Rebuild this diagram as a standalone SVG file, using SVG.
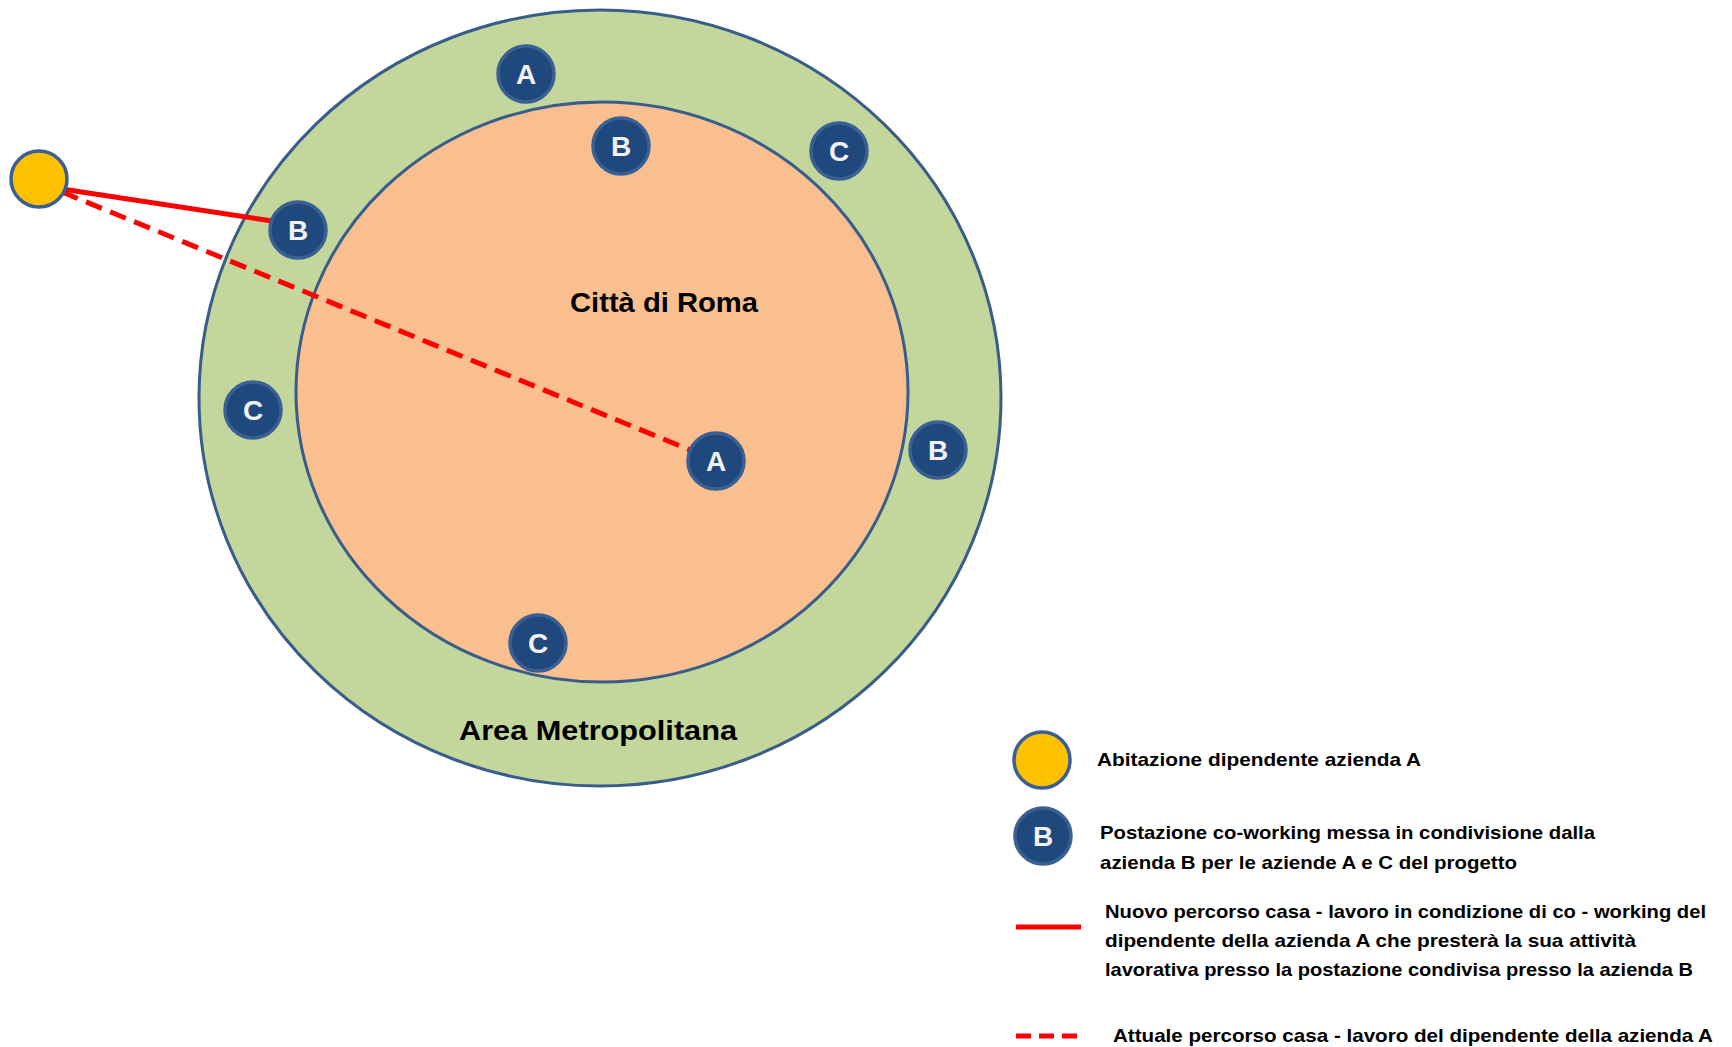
<svg xmlns="http://www.w3.org/2000/svg" width="1732" height="1047" viewBox="0 0 1732 1047">
<style>
.ring{stroke:#385D8A;stroke-width:3}
.node circle{fill:#1F497D;stroke:#3A5F92;stroke-width:3.5}
.node text{fill:#F2F2F2;font-family:"Liberation Sans",Arial,sans-serif;font-weight:bold;font-size:28px;text-anchor:middle}
.lbl{fill:#000;font-family:"Liberation Sans",Arial,sans-serif;font-weight:bold}
.leg{fill:#000;font-family:"Liberation Sans",Arial,sans-serif;font-weight:bold;font-size:19px}
.home{fill:#FFC000;stroke:#3A5F92;stroke-width:3.5}
.solid{stroke:#FF0000;stroke-width:5;fill:none}
.dash{stroke:#FF0000;stroke-width:5;fill:none;stroke-dasharray:17 9}
</style>
<rect width="1732" height="1047" fill="#FFFFFF"/>
<g id="area-metropolitana">
<ellipse class="ring" cx="600" cy="398" rx="401" ry="388" fill="#C3D69B"/>
<text class="lbl" x="598" y="740" font-size="28" text-anchor="middle" textLength="278" lengthAdjust="spacingAndGlyphs">Area Metropolitana</text>
</g>
<g id="citta-di-roma">
<ellipse class="ring" cx="602" cy="392" rx="306" ry="290" fill="#F9BF8F"/>
<text class="lbl" x="664" y="312" font-size="28" text-anchor="middle" textLength="188" lengthAdjust="spacingAndGlyphs">Città di Roma</text>
</g>
<g id="connectors">
<line class="solid" x1="62" y1="189" x2="272" y2="221"/>
<line class="dash" x1="62" y1="192" x2="690" y2="450"/>
</g>
<g id="home"><circle class="home" cx="39" cy="179" r="28"/></g>
<g id="node-a-top" class="node"><circle cx="526" cy="74" r="28"/><text x="526" y="84">A</text></g>
<g id="node-b-inner" class="node"><circle cx="621" cy="146" r="28"/><text x="621" y="156">B</text></g>
<g id="node-c-topright" class="node"><circle cx="839" cy="151" r="28"/><text x="839" y="161">C</text></g>
<g id="node-b-left" class="node"><circle cx="298" cy="230" r="28"/><text x="298" y="240">B</text></g>
<g id="node-c-left" class="node"><circle cx="253" cy="410" r="28"/><text x="253" y="420">C</text></g>
<g id="node-a-center" class="node"><circle cx="716" cy="461" r="28"/><text x="716" y="471">A</text></g>
<g id="node-b-right" class="node"><circle cx="938" cy="450" r="28"/><text x="938" y="460">B</text></g>
<g id="node-c-bottom" class="node"><circle cx="538" cy="643" r="28"/><text x="538" y="653">C</text></g>
<g id="legend-home">
<circle class="home" cx="1042" cy="760" r="28"/>
<text class="leg" x="1097" y="766" textLength="324" lengthAdjust="spacingAndGlyphs">Abitazione dipendente azienda A</text>
</g>
<g id="legend-node" class="node">
<circle cx="1043" cy="836" r="28"/><text x="1043" y="846">B</text>
</g>
<g id="legend-node-text">
<text class="leg" x="1100" y="839" textLength="495" lengthAdjust="spacingAndGlyphs">Postazione co-working messa in condivisione dalla</text>
<text class="leg" x="1100" y="869" textLength="417" lengthAdjust="spacingAndGlyphs">azienda B per le aziende A e C del progetto</text>
</g>
<g id="legend-solid">
<line class="solid" x1="1016" y1="927" x2="1081" y2="927"/>
<text class="leg" x="1105" y="918" textLength="601" lengthAdjust="spacingAndGlyphs">Nuovo percorso casa - lavoro in condizione di co - working del</text>
<text class="leg" x="1105" y="947" textLength="531" lengthAdjust="spacingAndGlyphs">dipendente della azienda A che presterà la sua attività</text>
<text class="leg" x="1105" y="976" textLength="588" lengthAdjust="spacingAndGlyphs">lavorativa presso la postazione condivisa presso la azienda B</text>
</g>
<g id="legend-dash">
<line class="dash" x1="1016" y1="1036" x2="1083" y2="1036" style="stroke-dasharray:15 8"/>
<text class="leg" x="1113" y="1042" textLength="600" lengthAdjust="spacingAndGlyphs">Attuale percorso casa - lavoro del dipendente della azienda A</text>
</g>
</svg>
